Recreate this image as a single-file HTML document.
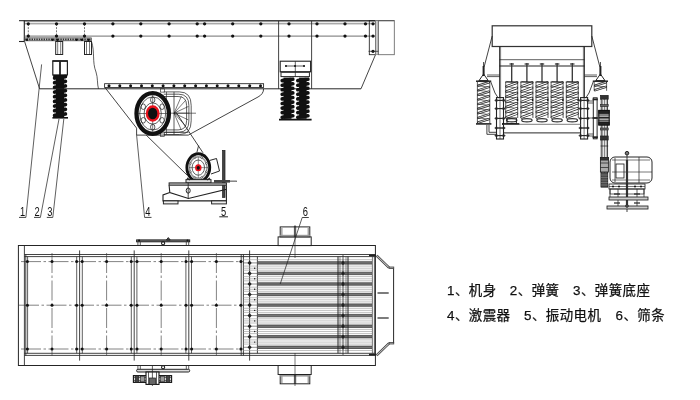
<!DOCTYPE html>
<html><head><meta charset="utf-8"><title>振动给料机结构图</title>
<style>
html,body{margin:0;padding:0;background:#fff;}
svg{display:block;will-change:transform;}
text{font-family:"Liberation Sans","Noto Sans CJK SC",sans-serif;fill:#111;}
.lg{stroke:#111;stroke-width:0.25px;}
</style></head><body>
<svg width="700" height="400" viewBox="0 0 700 400">
<rect width="700" height="400" fill="#fff"/>
<line x1="19.0" y1="20.6" x2="394.3" y2="20.6" stroke="#444" stroke-width="1.1" />
<line x1="24.3" y1="23.8" x2="375.5" y2="23.8" stroke="#555" stroke-width="0.73" />
<line x1="23.8" y1="21.7" x2="376.0" y2="21.7" stroke="#555" stroke-width="0.61" />
<line x1="19.0" y1="41.5" x2="24.3" y2="41.5" stroke="#222" stroke-width="1.1" />
<line x1="24.3" y1="20.6" x2="24.3" y2="41.5" stroke="#222" stroke-width="1.1" />
<line x1="24.3" y1="36.1" x2="375.5" y2="36.1" stroke="#555" stroke-width="0.85" />
<rect x="24.3" y="37.9" width="67" height="2.9" fill="#ddd" stroke="#333" stroke-width="0.7"/>
<line x1="24.3" y1="39.4" x2="91.3" y2="39.4" stroke="#333" stroke-width="1.6" stroke-dasharray="1.5 0.9"/>
<circle cx="28.3" cy="23.8" r="1.65" fill="#111"/>
<circle cx="28.3" cy="36.1" r="1.65" fill="#111"/>
<line x1="28.3" y1="23.9" x2="28.3" y2="35.9" stroke="#222" stroke-width="0.61" stroke-dasharray="2 1.2"/>
<circle cx="56.5" cy="23.8" r="1.65" fill="#111"/>
<circle cx="56.5" cy="36.1" r="1.65" fill="#111"/>
<line x1="56.5" y1="23.9" x2="56.5" y2="35.9" stroke="#222" stroke-width="0.61" stroke-dasharray="2 1.2"/>
<circle cx="84.5" cy="23.8" r="1.65" fill="#111"/>
<circle cx="84.5" cy="36.1" r="1.65" fill="#111"/>
<line x1="84.5" y1="23.9" x2="84.5" y2="35.9" stroke="#222" stroke-width="0.61" stroke-dasharray="2 1.2"/>
<circle cx="27.0" cy="39.8" r="1.2" fill="#111"/>
<circle cx="52.5" cy="39.8" r="1.2" fill="#111"/>
<circle cx="57.5" cy="39.8" r="1.2" fill="#111"/>
<circle cx="76.5" cy="39.8" r="1.2" fill="#111"/>
<circle cx="82.0" cy="39.8" r="1.2" fill="#111"/>
<circle cx="88.5" cy="39.8" r="1.2" fill="#111"/>
<circle cx="112.9" cy="23.8" r="1.65" fill="#111"/>
<circle cx="112.9" cy="36.1" r="1.65" fill="#111"/>
<circle cx="140.8" cy="23.8" r="1.65" fill="#111"/>
<circle cx="140.8" cy="36.1" r="1.65" fill="#111"/>
<circle cx="169.1" cy="23.8" r="1.65" fill="#111"/>
<circle cx="169.1" cy="36.1" r="1.65" fill="#111"/>
<circle cx="197.2" cy="23.8" r="1.65" fill="#111"/>
<circle cx="197.2" cy="36.1" r="1.65" fill="#111"/>
<circle cx="204.6" cy="23.8" r="1.65" fill="#111"/>
<circle cx="204.6" cy="36.1" r="1.65" fill="#111"/>
<circle cx="232.7" cy="23.8" r="1.65" fill="#111"/>
<circle cx="232.7" cy="36.1" r="1.65" fill="#111"/>
<circle cx="260.8" cy="23.8" r="1.65" fill="#111"/>
<circle cx="260.8" cy="36.1" r="1.65" fill="#111"/>
<circle cx="289.0" cy="23.8" r="1.65" fill="#111"/>
<circle cx="289.0" cy="36.1" r="1.65" fill="#111"/>
<circle cx="317.0" cy="23.8" r="1.65" fill="#111"/>
<circle cx="317.0" cy="36.1" r="1.65" fill="#111"/>
<circle cx="345.0" cy="23.8" r="1.65" fill="#111"/>
<circle cx="345.0" cy="36.1" r="1.65" fill="#111"/>
<circle cx="365.5" cy="23.8" r="1.65" fill="#111"/>
<circle cx="365.5" cy="36.1" r="1.65" fill="#111"/>
<rect x="55.7" y="41.5" width="7.0" height="13.0" fill="none" stroke="#222" stroke-width="0.98" rx="0"/>
<line x1="57.7" y1="41.5" x2="57.7" y2="54.5" stroke="#222" stroke-width="0.61" />
<line x1="60.7" y1="41.5" x2="60.7" y2="54.5" stroke="#222" stroke-width="0.61" />
<rect x="84.5" y="41.5" width="7.0" height="13.0" fill="none" stroke="#222" stroke-width="0.98" rx="0"/>
<line x1="86.5" y1="41.5" x2="86.5" y2="54.5" stroke="#222" stroke-width="0.61" />
<line x1="89.5" y1="41.5" x2="89.5" y2="54.5" stroke="#222" stroke-width="0.61" />
<rect x="52.8" y="61.2" width="14.6" height="13.8" fill="none" stroke="#222" stroke-width="1.2" rx="0"/>
<line x1="52.4" y1="60.9" x2="67.8" y2="60.9" stroke="#222" stroke-width="1.6" />
<line x1="60.0" y1="61.0" x2="60.0" y2="75.0" stroke="#222" stroke-width="1.8" />
<line x1="53.2" y1="76.0" x2="67.0" y2="76.0" stroke="#111" stroke-width="2.4" />
<rect x="55.8" y="75.0" width="8.4" height="42.0" fill="#111"/>
<line x1="54.6" y1="78.0" x2="65.4" y2="76.6" stroke="#111" stroke-width="3.73" stroke-linecap="round"/>
<line x1="54.6" y1="82.7" x2="65.4" y2="81.3" stroke="#111" stroke-width="3.73" stroke-linecap="round"/>
<line x1="54.6" y1="87.4" x2="65.4" y2="86.0" stroke="#111" stroke-width="3.73" stroke-linecap="round"/>
<line x1="54.6" y1="92.0" x2="65.4" y2="90.6" stroke="#111" stroke-width="3.73" stroke-linecap="round"/>
<line x1="54.6" y1="96.7" x2="65.4" y2="95.3" stroke="#111" stroke-width="3.73" stroke-linecap="round"/>
<line x1="54.6" y1="101.4" x2="65.4" y2="100.0" stroke="#111" stroke-width="3.73" stroke-linecap="round"/>
<line x1="54.6" y1="106.0" x2="65.4" y2="104.6" stroke="#111" stroke-width="3.73" stroke-linecap="round"/>
<line x1="54.6" y1="110.7" x2="65.4" y2="109.3" stroke="#111" stroke-width="3.73" stroke-linecap="round"/>
<line x1="54.6" y1="115.4" x2="65.4" y2="114.0" stroke="#111" stroke-width="3.73" stroke-linecap="round"/>
<line x1="52.4" y1="117.8" x2="68.0" y2="117.8" stroke="#111" stroke-width="1.6" />
<line x1="39.6" y1="88.8" x2="361.0" y2="88.8" stroke="#222" stroke-width="0.98" />
<line x1="24.6" y1="41.5" x2="39.6" y2="88.8" stroke="#222" stroke-width="0.85" />
<path d="M91.5 41.5 C95 52 92 62 96 72 C98 78 97 84 98.5 88.8" fill="none" stroke="#222" stroke-width="0.73" />
<line x1="278.6" y1="21.0" x2="278.6" y2="88.8" stroke="#222" stroke-width="0.85" />
<line x1="311.6" y1="21.0" x2="311.6" y2="88.8" stroke="#222" stroke-width="0.85" />
<line x1="361.0" y1="88.8" x2="375.5" y2="54.7" stroke="#222" stroke-width="0.85" />
<rect x="369.3" y="20.6" width="6.2" height="34.1" fill="none" stroke="#222" stroke-width="0.85" rx="0"/>
<rect x="375.5" y="20.6" width="2.8" height="34.1" fill="#ccc" stroke="#777" stroke-width="0.61" rx="0"/>
<rect x="378.3" y="20.6" width="16.0" height="34.1" fill="none" stroke="#666" stroke-width="0.85" rx="0"/>
<circle cx="373.0" cy="23.8" r="1.6" fill="#111"/>
<circle cx="373.0" cy="36.1" r="1.6" fill="#111"/>
<circle cx="373.0" cy="51.3" r="1.6" fill="#111"/>
<line x1="368.5" y1="51.3" x2="378.3" y2="51.3" stroke="#222" stroke-width="0.73" />
<rect x="280.2" y="61.2" width="30.4" height="10.6" fill="none" stroke="#222" stroke-width="1.1" rx="0"/>
<rect x="281.0" y="71.8" width="28.4" height="4.8" fill="none" stroke="#222" stroke-width="0.98" rx="0"/>
<line x1="281.0" y1="72.2" x2="309.4" y2="72.2" stroke="#444" stroke-width="1.4" />
<line x1="295.3" y1="61.2" x2="295.3" y2="76.6" stroke="#222" stroke-width="0.73" />
<line x1="285.0" y1="66.0" x2="305.0" y2="66.0" stroke="#222" stroke-width="0.73" />
<circle cx="286.0" cy="66.0" r="1" fill="#111"/>
<circle cx="295.0" cy="66.0" r="1" fill="#111"/>
<circle cx="304.0" cy="66.0" r="1" fill="#111"/>
<rect x="283.5" y="77.6" width="8.0" height="41.2" fill="#111"/>
<line x1="282.2" y1="80.6" x2="292.8" y2="79.2" stroke="#111" stroke-width="3.66" stroke-linecap="round"/>
<line x1="282.2" y1="85.2" x2="292.8" y2="83.8" stroke="#111" stroke-width="3.66" stroke-linecap="round"/>
<line x1="282.2" y1="89.7" x2="292.8" y2="88.3" stroke="#111" stroke-width="3.66" stroke-linecap="round"/>
<line x1="282.2" y1="94.3" x2="292.8" y2="92.9" stroke="#111" stroke-width="3.66" stroke-linecap="round"/>
<line x1="282.2" y1="98.9" x2="292.8" y2="97.5" stroke="#111" stroke-width="3.66" stroke-linecap="round"/>
<line x1="282.2" y1="103.5" x2="292.8" y2="102.1" stroke="#111" stroke-width="3.66" stroke-linecap="round"/>
<line x1="282.2" y1="108.1" x2="292.8" y2="106.7" stroke="#111" stroke-width="3.66" stroke-linecap="round"/>
<line x1="282.2" y1="112.6" x2="292.8" y2="111.2" stroke="#111" stroke-width="3.66" stroke-linecap="round"/>
<line x1="282.2" y1="117.2" x2="292.8" y2="115.8" stroke="#111" stroke-width="3.66" stroke-linecap="round"/>
<rect x="299.1" y="77.6" width="7.5" height="41.2" fill="#111"/>
<line x1="297.8" y1="80.6" x2="307.9" y2="79.2" stroke="#111" stroke-width="3.66" stroke-linecap="round"/>
<line x1="297.8" y1="85.2" x2="307.9" y2="83.8" stroke="#111" stroke-width="3.66" stroke-linecap="round"/>
<line x1="297.8" y1="89.7" x2="307.9" y2="88.3" stroke="#111" stroke-width="3.66" stroke-linecap="round"/>
<line x1="297.8" y1="94.3" x2="307.9" y2="92.9" stroke="#111" stroke-width="3.66" stroke-linecap="round"/>
<line x1="297.8" y1="98.9" x2="307.9" y2="97.5" stroke="#111" stroke-width="3.66" stroke-linecap="round"/>
<line x1="297.8" y1="103.5" x2="307.9" y2="102.1" stroke="#111" stroke-width="3.66" stroke-linecap="round"/>
<line x1="297.8" y1="108.1" x2="307.9" y2="106.7" stroke="#111" stroke-width="3.66" stroke-linecap="round"/>
<line x1="297.8" y1="112.6" x2="307.9" y2="111.2" stroke="#111" stroke-width="3.66" stroke-linecap="round"/>
<line x1="297.8" y1="117.2" x2="307.9" y2="115.8" stroke="#111" stroke-width="3.66" stroke-linecap="round"/>
<line x1="279.0" y1="119.7" x2="311.6" y2="119.7" stroke="#111" stroke-width="1.7" />
<rect x="104.6" y="83.7" width="159.0" height="3.8" fill="none" stroke="#222" stroke-width="0.85" rx="0"/>
<circle cx="109.0" cy="85.7" r="1.5" fill="#111"/>
<circle cx="119.8" cy="85.7" r="1.5" fill="#111"/>
<circle cx="130.6" cy="85.7" r="1.5" fill="#111"/>
<circle cx="141.5" cy="85.7" r="1.5" fill="#111"/>
<circle cx="152.3" cy="85.7" r="1.5" fill="#111"/>
<circle cx="163.1" cy="85.7" r="1.5" fill="#111"/>
<circle cx="173.9" cy="85.7" r="1.5" fill="#111"/>
<circle cx="184.7" cy="85.7" r="1.5" fill="#111"/>
<circle cx="195.6" cy="85.7" r="1.5" fill="#111"/>
<circle cx="206.4" cy="85.7" r="1.5" fill="#111"/>
<circle cx="217.2" cy="85.7" r="1.5" fill="#111"/>
<circle cx="228.0" cy="85.7" r="1.5" fill="#111"/>
<circle cx="238.8" cy="85.7" r="1.5" fill="#111"/>
<circle cx="249.7" cy="85.7" r="1.5" fill="#111"/>
<circle cx="260.5" cy="85.7" r="1.5" fill="#111"/>
<path d="M105.2 87.8 L136.6 128.1 L136.6 135.1 L188.3 135.1 L258 97 Q263.6 94 263.6 88.8" fill="none" stroke="#222" stroke-width="0.85" />
<path d="M163.7 91.9 L179.5 91.9 Q191.2 91.9 191.2 105.6 L191.2 120.7 Q191.2 134.5 179.5 134.5 L163.7 134.5" fill="none" stroke="#222" stroke-width="0.73" />
<path d="M163.7 94.2 L178.8 94.2 Q188.9 94.2 188.9 105.6 L188.9 120.7 Q188.9 132.2 178.8 132.2 L163.7 132.2" fill="none" stroke="#222" stroke-width="0.73" />
<path d="M163.7 96.5 L178.1 96.5 Q186.6 96.5 186.6 105.6 L186.6 120.7 Q186.6 129.9 178.1 129.9 L163.7 129.9" fill="none" stroke="#222" stroke-width="0.73" />
<line x1="174.0" y1="91.9" x2="174.0" y2="134.5" stroke="#222" stroke-width="0.73" />
<line x1="166.5" y1="91.9" x2="166.5" y2="134.5" stroke="#222" stroke-width="0.61" />
<line x1="174.0" y1="113.2" x2="181.3" y2="96.4" stroke="#222" stroke-width="0.61" />
<line x1="174.0" y1="113.2" x2="185.5" y2="100.5" stroke="#222" stroke-width="0.61" />
<line x1="174.0" y1="113.2" x2="188.5" y2="106.4" stroke="#222" stroke-width="0.61" />
<line x1="174.0" y1="113.2" x2="189.5" y2="113.2" stroke="#222" stroke-width="0.61" />
<line x1="174.0" y1="113.2" x2="188.5" y2="120.0" stroke="#222" stroke-width="0.61" />
<line x1="174.0" y1="113.2" x2="185.5" y2="125.9" stroke="#222" stroke-width="0.61" />
<line x1="174.0" y1="113.2" x2="181.3" y2="130.0" stroke="#222" stroke-width="0.61" />
<line x1="140.0" y1="113.2" x2="196.0" y2="113.2" stroke="#222" stroke-width="0.61" />
<rect x="160.5" y="88.8" width="4.0" height="3.3" fill="none" stroke="#222" stroke-width="0.61" rx="0"/>
<rect x="160.5" y="133.0" width="4.0" height="3.3" fill="none" stroke="#222" stroke-width="0.61" rx="0"/>
<line x1="163.7" y1="132.4" x2="188.5" y2="132.4" stroke="#222" stroke-width="0.73" />
<ellipse cx="152.7" cy="113.5" rx="16.2" ry="20.3" fill="#fff" stroke="#111" stroke-width="4.3"/>
<ellipse cx="152.7" cy="113.5" rx="13.0" ry="16.6" fill="none" stroke="#222" stroke-width="0.73"/>
<ellipse cx="152.7" cy="113.5" rx="8.6" ry="10.6" fill="none" stroke="#222" stroke-width="0.73"/>
<ellipse cx="152.7" cy="127.1" rx="2.2" ry="2.8" fill="none" stroke="#222" stroke-width="0.73"/>
<ellipse cx="143.3" cy="120.3" rx="2.2" ry="2.8" fill="none" stroke="#222" stroke-width="0.73"/>
<ellipse cx="143.3" cy="106.7" rx="2.2" ry="2.8" fill="none" stroke="#222" stroke-width="0.73"/>
<ellipse cx="152.7" cy="99.9" rx="2.2" ry="2.8" fill="none" stroke="#222" stroke-width="0.73"/>
<ellipse cx="162.1" cy="106.7" rx="2.2" ry="2.8" fill="none" stroke="#222" stroke-width="0.73"/>
<ellipse cx="162.1" cy="120.3" rx="2.2" ry="2.8" fill="none" stroke="#222" stroke-width="0.73"/>
<line x1="138.0" y1="113.5" x2="167.0" y2="113.5" stroke="#222" stroke-width="0.61" />
<line x1="152.7" y1="94.0" x2="152.7" y2="133.0" stroke="#222" stroke-width="0.61" />
<ellipse cx="152.7" cy="113.5" rx="5.8" ry="7.0" fill="#111" stroke="#e8121c" stroke-width="2.3"/>
<line x1="146.2" y1="135.1" x2="187.4" y2="175.4" stroke="#222" stroke-width="0.85" />
<line x1="176.0" y1="112.3" x2="203.0" y2="152.8" stroke="#222" stroke-width="0.85" />
<ellipse cx="198.3" cy="167.6" rx="11.4" ry="13.8" fill="#fff" stroke="#111" stroke-width="2.9"/>
<ellipse cx="198.3" cy="167.6" rx="8.8" ry="10.8" fill="none" stroke="#999" stroke-width="1.6"/>
<ellipse cx="198.3" cy="167.6" rx="6.2" ry="7.6" fill="none" stroke="#222" stroke-width="0.73"/>
<ellipse cx="206.4" cy="171.7" rx="0.9" ry="0.9" fill="#fff" stroke="#222" stroke-width="0.61"/>
<ellipse cx="201.7" cy="177.6" rx="0.9" ry="0.9" fill="#fff" stroke="#222" stroke-width="0.61"/>
<ellipse cx="194.9" cy="177.6" rx="0.9" ry="0.9" fill="#fff" stroke="#222" stroke-width="0.61"/>
<ellipse cx="190.2" cy="171.7" rx="0.9" ry="0.9" fill="#fff" stroke="#222" stroke-width="0.61"/>
<ellipse cx="190.2" cy="163.5" rx="0.9" ry="0.9" fill="#fff" stroke="#222" stroke-width="0.61"/>
<ellipse cx="194.9" cy="157.6" rx="0.9" ry="0.9" fill="#fff" stroke="#222" stroke-width="0.61"/>
<ellipse cx="201.7" cy="157.6" rx="0.9" ry="0.9" fill="#fff" stroke="#222" stroke-width="0.61"/>
<ellipse cx="206.4" cy="163.5" rx="0.9" ry="0.9" fill="#fff" stroke="#222" stroke-width="0.61"/>
<line x1="189.0" y1="167.6" x2="208.0" y2="167.6" stroke="#222" stroke-width="0.49" />
<line x1="198.3" y1="157.0" x2="198.3" y2="178.0" stroke="#222" stroke-width="0.49" />
<ellipse cx="198.3" cy="167.8" rx="2.4" ry="2.7" fill="#111" stroke="#e8121c" stroke-width="1.7"/>
<line x1="198.6" y1="145.6" x2="196.9" y2="152.4" stroke="#222" stroke-width="0.85" />
<path d="M209.5 160.5 L216.5 158.5 L219.5 171 L211 174" fill="none" stroke="#222" stroke-width="0.98" />
<rect x="222.6" y="150.4" width="2.4" height="47.0" fill="#444" stroke="#222" stroke-width="0.73" rx="0"/>
<line x1="216.0" y1="181.3" x2="237.0" y2="181.3" stroke="#222" stroke-width="0.85" />
<line x1="214.0" y1="181.3" x2="230.0" y2="181.3" stroke="#444" stroke-width="2.6" />
<line x1="230.0" y1="181.3" x2="236.6" y2="181.3" stroke="#888" stroke-width="1.4" />
<rect x="186.0" y="179.6" width="25.0" height="3.3" fill="#ddd" stroke="#222" stroke-width="0.98" rx="0"/>
<line x1="187.0" y1="178.0" x2="190.0" y2="180.0" stroke="#222" stroke-width="1.2" />
<line x1="210.0" y1="178.0" x2="207.0" y2="180.0" stroke="#222" stroke-width="1.2" />
<rect x="169.1" y="182.9" width="57.3" height="2.3" fill="#bbb" stroke="#222" stroke-width="0.98" rx="0"/>
<path d="M169.1 185.2 L169.8 192.5 L188.4 198.5 L226.4 189.3 L226.4 185.2" fill="none" stroke="#222" stroke-width="1.1" />
<path d="M169.8 192.5 L163 195 L163 200.9 L226.4 200.9 L226.4 189.3" fill="none" stroke="#222" stroke-width="1.1" />
<rect x="163.4" y="200.9" width="14.6" height="3.0" fill="#eee" stroke="#222" stroke-width="0.98" rx="0"/>
<rect x="211.6" y="200.9" width="14.8" height="3.0" fill="#eee" stroke="#222" stroke-width="0.98" rx="0"/>
<ellipse cx="188.2" cy="190.6" rx="2.0" ry="2.6" fill="none" stroke="#222" stroke-width="0.98"/>
<line x1="188.2" y1="182.9" x2="188.2" y2="198.5" stroke="#222" stroke-width="0.85" />
<line x1="41.6" y1="64.4" x2="25.9" y2="217.4" stroke="#222" stroke-width="0.73" />
<line x1="59.0" y1="119.0" x2="40.4" y2="217.4" stroke="#222" stroke-width="0.73" />
<line x1="63.8" y1="119.0" x2="52.8" y2="217.4" stroke="#222" stroke-width="0.73" />
<line x1="136.6" y1="135.1" x2="144.6" y2="217.4" stroke="#222" stroke-width="0.73" />
<text transform="translate(22.7,215.7) scale(0.78,1)" font-size="12" text-anchor="middle">1</text>
<text transform="translate(37.2,215.7) scale(0.78,1)" font-size="12" text-anchor="middle">2</text>
<text transform="translate(49.8,215.7) scale(0.78,1)" font-size="12" text-anchor="middle">3</text>
<text transform="translate(147.8,215.7) scale(0.78,1)" font-size="12" text-anchor="middle">4</text>
<text transform="translate(223.6,215.7) scale(0.78,1)" font-size="12" text-anchor="middle">5</text>
<line x1="19.0" y1="217.4" x2="25.9" y2="217.4" stroke="#222" stroke-width="0.85" />
<line x1="34.0" y1="217.4" x2="40.4" y2="217.4" stroke="#222" stroke-width="0.85" />
<line x1="46.8" y1="217.4" x2="52.8" y2="217.4" stroke="#222" stroke-width="0.85" />
<line x1="144.6" y1="217.4" x2="151.5" y2="217.4" stroke="#222" stroke-width="0.85" />
<line x1="219.3" y1="216.8" x2="228.0" y2="216.8" stroke="#222" stroke-width="0.98" />
<rect x="492.2" y="25.8" width="99.6" height="20.7" fill="none" stroke="#333" stroke-width="1.22" rx="0"/>
<line x1="492.2" y1="36.0" x2="484.2" y2="66.7" stroke="#222" stroke-width="0.85" />
<line x1="591.8" y1="36.0" x2="599.8" y2="66.7" stroke="#222" stroke-width="0.85" />
<line x1="499.5" y1="46.5" x2="499.5" y2="98.0" stroke="#222" stroke-width="0.85" />
<line x1="584.5" y1="46.5" x2="584.5" y2="98.0" stroke="#222" stroke-width="0.85" />
<line x1="499.5" y1="59.7" x2="584.5" y2="59.7" stroke="#222" stroke-width="0.73" />
<line x1="499.5" y1="66.0" x2="584.5" y2="66.0" stroke="#222" stroke-width="1.22" />
<line x1="511.7" y1="63.0" x2="511.7" y2="82.0" stroke="#333" stroke-width="1.3" />
<line x1="509.5" y1="64.0" x2="513.9" y2="64.0" stroke="#333" stroke-width="1.22" />
<line x1="505.7" y1="82.0" x2="505.7" y2="118.0" stroke="#222" stroke-width="0.73" />
<line x1="517.7" y1="82.0" x2="517.7" y2="118.0" stroke="#222" stroke-width="0.73" />
<line x1="517.1" y1="82.7" x2="506.3" y2="81.4" stroke="#222" stroke-width="0.61" />
<line x1="506.6" y1="86.4" x2="516.8" y2="82.7" stroke="#222" stroke-width="2.7" stroke-linecap="round"/>
<line x1="506.7" y1="86.4" x2="516.7" y2="82.7" stroke="#fff" stroke-width="1.2" stroke-linecap="round"/>
<line x1="517.1" y1="87.9" x2="506.3" y2="86.5" stroke="#222" stroke-width="0.61" />
<line x1="506.6" y1="91.6" x2="516.8" y2="87.9" stroke="#222" stroke-width="2.7" stroke-linecap="round"/>
<line x1="506.7" y1="91.6" x2="516.7" y2="87.9" stroke="#fff" stroke-width="1.2" stroke-linecap="round"/>
<line x1="517.1" y1="93.0" x2="506.3" y2="91.7" stroke="#222" stroke-width="0.61" />
<line x1="506.6" y1="96.7" x2="516.8" y2="93.0" stroke="#222" stroke-width="2.7" stroke-linecap="round"/>
<line x1="506.7" y1="96.7" x2="516.7" y2="93.0" stroke="#fff" stroke-width="1.2" stroke-linecap="round"/>
<line x1="517.1" y1="98.1" x2="506.3" y2="96.8" stroke="#222" stroke-width="0.61" />
<line x1="506.6" y1="101.9" x2="516.8" y2="98.1" stroke="#222" stroke-width="2.7" stroke-linecap="round"/>
<line x1="506.7" y1="101.9" x2="516.7" y2="98.1" stroke="#fff" stroke-width="1.2" stroke-linecap="round"/>
<line x1="517.1" y1="103.3" x2="506.3" y2="102.0" stroke="#222" stroke-width="0.61" />
<line x1="506.6" y1="107.0" x2="516.8" y2="103.3" stroke="#222" stroke-width="2.7" stroke-linecap="round"/>
<line x1="506.7" y1="107.0" x2="516.7" y2="103.3" stroke="#fff" stroke-width="1.2" stroke-linecap="round"/>
<line x1="517.1" y1="108.4" x2="506.3" y2="107.1" stroke="#222" stroke-width="0.61" />
<line x1="506.6" y1="112.1" x2="516.8" y2="108.4" stroke="#222" stroke-width="2.7" stroke-linecap="round"/>
<line x1="506.7" y1="112.1" x2="516.7" y2="108.4" stroke="#fff" stroke-width="1.2" stroke-linecap="round"/>
<line x1="517.1" y1="113.6" x2="506.3" y2="112.2" stroke="#222" stroke-width="0.61" />
<line x1="506.6" y1="117.3" x2="516.8" y2="113.6" stroke="#222" stroke-width="2.7" stroke-linecap="round"/>
<line x1="506.7" y1="117.3" x2="516.7" y2="113.6" stroke="#fff" stroke-width="1.2" stroke-linecap="round"/>
<line x1="505.2" y1="82.0" x2="518.2" y2="82.0" stroke="#222" stroke-width="1.1" />
<ellipse cx="511.7" cy="120.2" rx="5.2" ry="1.6" fill="none" stroke="#333" stroke-width="1.22"/>
<rect x="507.0" y="118.0" width="9.4" height="5.6" fill="none" stroke="#222" stroke-width="0.98" rx="0"/>
<circle cx="517.5" cy="100.0" r="0.9" fill="#111"/>
<line x1="526.9" y1="63.0" x2="526.9" y2="82.0" stroke="#333" stroke-width="1.3" />
<line x1="524.6" y1="64.0" x2="529.1" y2="64.0" stroke="#333" stroke-width="1.22" />
<line x1="520.9" y1="82.0" x2="520.9" y2="118.0" stroke="#222" stroke-width="0.73" />
<line x1="532.9" y1="82.0" x2="532.9" y2="118.0" stroke="#222" stroke-width="0.73" />
<line x1="532.2" y1="82.7" x2="521.5" y2="81.4" stroke="#222" stroke-width="0.61" />
<line x1="521.8" y1="86.4" x2="532.0" y2="82.7" stroke="#222" stroke-width="2.7" stroke-linecap="round"/>
<line x1="521.9" y1="86.4" x2="531.9" y2="82.7" stroke="#fff" stroke-width="1.2" stroke-linecap="round"/>
<line x1="532.2" y1="87.9" x2="521.5" y2="86.5" stroke="#222" stroke-width="0.61" />
<line x1="521.8" y1="91.6" x2="532.0" y2="87.9" stroke="#222" stroke-width="2.7" stroke-linecap="round"/>
<line x1="521.9" y1="91.6" x2="531.9" y2="87.9" stroke="#fff" stroke-width="1.2" stroke-linecap="round"/>
<line x1="532.2" y1="93.0" x2="521.5" y2="91.7" stroke="#222" stroke-width="0.61" />
<line x1="521.8" y1="96.7" x2="532.0" y2="93.0" stroke="#222" stroke-width="2.7" stroke-linecap="round"/>
<line x1="521.9" y1="96.7" x2="531.9" y2="93.0" stroke="#fff" stroke-width="1.2" stroke-linecap="round"/>
<line x1="532.2" y1="98.1" x2="521.5" y2="96.8" stroke="#222" stroke-width="0.61" />
<line x1="521.8" y1="101.9" x2="532.0" y2="98.1" stroke="#222" stroke-width="2.7" stroke-linecap="round"/>
<line x1="521.9" y1="101.9" x2="531.9" y2="98.1" stroke="#fff" stroke-width="1.2" stroke-linecap="round"/>
<line x1="532.2" y1="103.3" x2="521.5" y2="102.0" stroke="#222" stroke-width="0.61" />
<line x1="521.8" y1="107.0" x2="532.0" y2="103.3" stroke="#222" stroke-width="2.7" stroke-linecap="round"/>
<line x1="521.9" y1="107.0" x2="531.9" y2="103.3" stroke="#fff" stroke-width="1.2" stroke-linecap="round"/>
<line x1="532.2" y1="108.4" x2="521.5" y2="107.1" stroke="#222" stroke-width="0.61" />
<line x1="521.8" y1="112.1" x2="532.0" y2="108.4" stroke="#222" stroke-width="2.7" stroke-linecap="round"/>
<line x1="521.9" y1="112.1" x2="531.9" y2="108.4" stroke="#fff" stroke-width="1.2" stroke-linecap="round"/>
<line x1="532.2" y1="113.6" x2="521.5" y2="112.2" stroke="#222" stroke-width="0.61" />
<line x1="521.8" y1="117.3" x2="532.0" y2="113.6" stroke="#222" stroke-width="2.7" stroke-linecap="round"/>
<line x1="521.9" y1="117.3" x2="531.9" y2="113.6" stroke="#fff" stroke-width="1.2" stroke-linecap="round"/>
<line x1="520.4" y1="82.0" x2="533.4" y2="82.0" stroke="#222" stroke-width="1.1" />
<ellipse cx="526.9" cy="120.2" rx="5.2" ry="1.6" fill="none" stroke="#333" stroke-width="1.22"/>
<circle cx="532.6" cy="100.0" r="0.9" fill="#111"/>
<line x1="542.0" y1="63.0" x2="542.0" y2="82.0" stroke="#333" stroke-width="1.3" />
<line x1="539.8" y1="64.0" x2="544.2" y2="64.0" stroke="#333" stroke-width="1.22" />
<line x1="536.0" y1="82.0" x2="536.0" y2="118.0" stroke="#222" stroke-width="0.73" />
<line x1="548.0" y1="82.0" x2="548.0" y2="118.0" stroke="#222" stroke-width="0.73" />
<line x1="547.4" y1="82.7" x2="536.6" y2="81.4" stroke="#222" stroke-width="0.61" />
<line x1="536.9" y1="86.4" x2="547.1" y2="82.7" stroke="#222" stroke-width="2.7" stroke-linecap="round"/>
<line x1="537.0" y1="86.4" x2="547.0" y2="82.7" stroke="#fff" stroke-width="1.2" stroke-linecap="round"/>
<line x1="547.4" y1="87.9" x2="536.6" y2="86.5" stroke="#222" stroke-width="0.61" />
<line x1="536.9" y1="91.6" x2="547.1" y2="87.9" stroke="#222" stroke-width="2.7" stroke-linecap="round"/>
<line x1="537.0" y1="91.6" x2="547.0" y2="87.9" stroke="#fff" stroke-width="1.2" stroke-linecap="round"/>
<line x1="547.4" y1="93.0" x2="536.6" y2="91.7" stroke="#222" stroke-width="0.61" />
<line x1="536.9" y1="96.7" x2="547.1" y2="93.0" stroke="#222" stroke-width="2.7" stroke-linecap="round"/>
<line x1="537.0" y1="96.7" x2="547.0" y2="93.0" stroke="#fff" stroke-width="1.2" stroke-linecap="round"/>
<line x1="547.4" y1="98.1" x2="536.6" y2="96.8" stroke="#222" stroke-width="0.61" />
<line x1="536.9" y1="101.9" x2="547.1" y2="98.1" stroke="#222" stroke-width="2.7" stroke-linecap="round"/>
<line x1="537.0" y1="101.9" x2="547.0" y2="98.1" stroke="#fff" stroke-width="1.2" stroke-linecap="round"/>
<line x1="547.4" y1="103.3" x2="536.6" y2="102.0" stroke="#222" stroke-width="0.61" />
<line x1="536.9" y1="107.0" x2="547.1" y2="103.3" stroke="#222" stroke-width="2.7" stroke-linecap="round"/>
<line x1="537.0" y1="107.0" x2="547.0" y2="103.3" stroke="#fff" stroke-width="1.2" stroke-linecap="round"/>
<line x1="547.4" y1="108.4" x2="536.6" y2="107.1" stroke="#222" stroke-width="0.61" />
<line x1="536.9" y1="112.1" x2="547.1" y2="108.4" stroke="#222" stroke-width="2.7" stroke-linecap="round"/>
<line x1="537.0" y1="112.1" x2="547.0" y2="108.4" stroke="#fff" stroke-width="1.2" stroke-linecap="round"/>
<line x1="547.4" y1="113.6" x2="536.6" y2="112.2" stroke="#222" stroke-width="0.61" />
<line x1="536.9" y1="117.3" x2="547.1" y2="113.6" stroke="#222" stroke-width="2.7" stroke-linecap="round"/>
<line x1="537.0" y1="117.3" x2="547.0" y2="113.6" stroke="#fff" stroke-width="1.2" stroke-linecap="round"/>
<line x1="535.5" y1="82.0" x2="548.5" y2="82.0" stroke="#222" stroke-width="1.1" />
<ellipse cx="542.0" cy="120.2" rx="5.2" ry="1.6" fill="none" stroke="#333" stroke-width="1.22"/>
<circle cx="547.8" cy="100.0" r="0.9" fill="#111"/>
<line x1="557.1" y1="63.0" x2="557.1" y2="82.0" stroke="#333" stroke-width="1.3" />
<line x1="554.9" y1="64.0" x2="559.4" y2="64.0" stroke="#333" stroke-width="1.22" />
<line x1="551.1" y1="82.0" x2="551.1" y2="118.0" stroke="#222" stroke-width="0.73" />
<line x1="563.1" y1="82.0" x2="563.1" y2="118.0" stroke="#222" stroke-width="0.73" />
<line x1="562.5" y1="82.7" x2="551.8" y2="81.4" stroke="#222" stroke-width="0.61" />
<line x1="552.0" y1="86.4" x2="562.2" y2="82.7" stroke="#222" stroke-width="2.7" stroke-linecap="round"/>
<line x1="552.1" y1="86.4" x2="562.1" y2="82.7" stroke="#fff" stroke-width="1.2" stroke-linecap="round"/>
<line x1="562.5" y1="87.9" x2="551.8" y2="86.5" stroke="#222" stroke-width="0.61" />
<line x1="552.0" y1="91.6" x2="562.2" y2="87.9" stroke="#222" stroke-width="2.7" stroke-linecap="round"/>
<line x1="552.1" y1="91.6" x2="562.1" y2="87.9" stroke="#fff" stroke-width="1.2" stroke-linecap="round"/>
<line x1="562.5" y1="93.0" x2="551.8" y2="91.7" stroke="#222" stroke-width="0.61" />
<line x1="552.0" y1="96.7" x2="562.2" y2="93.0" stroke="#222" stroke-width="2.7" stroke-linecap="round"/>
<line x1="552.1" y1="96.7" x2="562.1" y2="93.0" stroke="#fff" stroke-width="1.2" stroke-linecap="round"/>
<line x1="562.5" y1="98.1" x2="551.8" y2="96.8" stroke="#222" stroke-width="0.61" />
<line x1="552.0" y1="101.9" x2="562.2" y2="98.1" stroke="#222" stroke-width="2.7" stroke-linecap="round"/>
<line x1="552.1" y1="101.9" x2="562.1" y2="98.1" stroke="#fff" stroke-width="1.2" stroke-linecap="round"/>
<line x1="562.5" y1="103.3" x2="551.8" y2="102.0" stroke="#222" stroke-width="0.61" />
<line x1="552.0" y1="107.0" x2="562.2" y2="103.3" stroke="#222" stroke-width="2.7" stroke-linecap="round"/>
<line x1="552.1" y1="107.0" x2="562.1" y2="103.3" stroke="#fff" stroke-width="1.2" stroke-linecap="round"/>
<line x1="562.5" y1="108.4" x2="551.8" y2="107.1" stroke="#222" stroke-width="0.61" />
<line x1="552.0" y1="112.1" x2="562.2" y2="108.4" stroke="#222" stroke-width="2.7" stroke-linecap="round"/>
<line x1="552.1" y1="112.1" x2="562.1" y2="108.4" stroke="#fff" stroke-width="1.2" stroke-linecap="round"/>
<line x1="562.5" y1="113.6" x2="551.8" y2="112.2" stroke="#222" stroke-width="0.61" />
<line x1="552.0" y1="117.3" x2="562.2" y2="113.6" stroke="#222" stroke-width="2.7" stroke-linecap="round"/>
<line x1="552.1" y1="117.3" x2="562.1" y2="113.6" stroke="#fff" stroke-width="1.2" stroke-linecap="round"/>
<line x1="550.6" y1="82.0" x2="563.6" y2="82.0" stroke="#222" stroke-width="1.1" />
<ellipse cx="557.1" cy="120.2" rx="5.2" ry="1.6" fill="none" stroke="#333" stroke-width="1.22"/>
<circle cx="562.9" cy="100.0" r="0.9" fill="#111"/>
<line x1="572.3" y1="63.0" x2="572.3" y2="82.0" stroke="#333" stroke-width="1.3" />
<line x1="570.1" y1="64.0" x2="574.5" y2="64.0" stroke="#333" stroke-width="1.22" />
<line x1="566.3" y1="82.0" x2="566.3" y2="118.0" stroke="#222" stroke-width="0.73" />
<line x1="578.3" y1="82.0" x2="578.3" y2="118.0" stroke="#222" stroke-width="0.73" />
<line x1="577.7" y1="82.7" x2="566.9" y2="81.4" stroke="#222" stroke-width="0.61" />
<line x1="567.2" y1="86.4" x2="577.4" y2="82.7" stroke="#222" stroke-width="2.7" stroke-linecap="round"/>
<line x1="567.3" y1="86.4" x2="577.3" y2="82.7" stroke="#fff" stroke-width="1.2" stroke-linecap="round"/>
<line x1="577.7" y1="87.9" x2="566.9" y2="86.5" stroke="#222" stroke-width="0.61" />
<line x1="567.2" y1="91.6" x2="577.4" y2="87.9" stroke="#222" stroke-width="2.7" stroke-linecap="round"/>
<line x1="567.3" y1="91.6" x2="577.3" y2="87.9" stroke="#fff" stroke-width="1.2" stroke-linecap="round"/>
<line x1="577.7" y1="93.0" x2="566.9" y2="91.7" stroke="#222" stroke-width="0.61" />
<line x1="567.2" y1="96.7" x2="577.4" y2="93.0" stroke="#222" stroke-width="2.7" stroke-linecap="round"/>
<line x1="567.3" y1="96.7" x2="577.3" y2="93.0" stroke="#fff" stroke-width="1.2" stroke-linecap="round"/>
<line x1="577.7" y1="98.1" x2="566.9" y2="96.8" stroke="#222" stroke-width="0.61" />
<line x1="567.2" y1="101.9" x2="577.4" y2="98.1" stroke="#222" stroke-width="2.7" stroke-linecap="round"/>
<line x1="567.3" y1="101.9" x2="577.3" y2="98.1" stroke="#fff" stroke-width="1.2" stroke-linecap="round"/>
<line x1="577.7" y1="103.3" x2="566.9" y2="102.0" stroke="#222" stroke-width="0.61" />
<line x1="567.2" y1="107.0" x2="577.4" y2="103.3" stroke="#222" stroke-width="2.7" stroke-linecap="round"/>
<line x1="567.3" y1="107.0" x2="577.3" y2="103.3" stroke="#fff" stroke-width="1.2" stroke-linecap="round"/>
<line x1="577.7" y1="108.4" x2="566.9" y2="107.1" stroke="#222" stroke-width="0.61" />
<line x1="567.2" y1="112.1" x2="577.4" y2="108.4" stroke="#222" stroke-width="2.7" stroke-linecap="round"/>
<line x1="567.3" y1="112.1" x2="577.3" y2="108.4" stroke="#fff" stroke-width="1.2" stroke-linecap="round"/>
<line x1="577.7" y1="113.6" x2="566.9" y2="112.2" stroke="#222" stroke-width="0.61" />
<line x1="567.2" y1="117.3" x2="577.4" y2="113.6" stroke="#222" stroke-width="2.7" stroke-linecap="round"/>
<line x1="567.3" y1="117.3" x2="577.3" y2="113.6" stroke="#fff" stroke-width="1.2" stroke-linecap="round"/>
<line x1="565.8" y1="82.0" x2="578.8" y2="82.0" stroke="#222" stroke-width="1.1" />
<ellipse cx="572.3" cy="120.2" rx="5.2" ry="1.6" fill="none" stroke="#333" stroke-width="1.22"/>
<circle cx="578.1" cy="100.0" r="0.9" fill="#111"/>
<line x1="483.6" y1="66.0" x2="483.6" y2="76.0" stroke="#222" stroke-width="2.0" />
<line x1="483.6" y1="62.0" x2="483.6" y2="66.0" stroke="#222" stroke-width="0.85" />
<path d="M483.6 74 L479.0 80.6 L488.20000000000005 80.6 Z" fill="none" stroke="#222" stroke-width="0.98" />
<line x1="476.0" y1="81.2" x2="491.2" y2="81.2" stroke="#222" stroke-width="1.5" />
<line x1="600.4" y1="66.0" x2="600.4" y2="76.0" stroke="#222" stroke-width="2.0" />
<line x1="600.4" y1="62.0" x2="600.4" y2="66.0" stroke="#222" stroke-width="0.85" />
<path d="M600.4 74 L595.8 80.6 L605.0 80.6 Z" fill="none" stroke="#222" stroke-width="0.98" />
<line x1="592.8" y1="81.2" x2="608.0" y2="81.2" stroke="#222" stroke-width="1.5" />
<line x1="477.4" y1="81.8" x2="477.4" y2="123.0" stroke="#222" stroke-width="0.73" />
<line x1="489.8" y1="81.8" x2="489.8" y2="123.0" stroke="#222" stroke-width="0.73" />
<line x1="489.2" y1="82.4" x2="478.0" y2="81.3" stroke="#222" stroke-width="0.61" />
<line x1="478.3" y1="85.7" x2="488.9" y2="82.4" stroke="#222" stroke-width="2.3" stroke-linecap="round"/>
<line x1="478.4" y1="85.7" x2="488.8" y2="82.4" stroke="#fff" stroke-width="0.8" stroke-linecap="round"/>
<line x1="489.2" y1="87.0" x2="478.0" y2="85.8" stroke="#222" stroke-width="0.61" />
<line x1="478.3" y1="90.3" x2="488.9" y2="87.0" stroke="#222" stroke-width="2.3" stroke-linecap="round"/>
<line x1="478.4" y1="90.3" x2="488.8" y2="87.0" stroke="#fff" stroke-width="0.8" stroke-linecap="round"/>
<line x1="489.2" y1="91.6" x2="478.0" y2="90.4" stroke="#222" stroke-width="0.61" />
<line x1="478.3" y1="94.9" x2="488.9" y2="91.6" stroke="#222" stroke-width="2.3" stroke-linecap="round"/>
<line x1="478.4" y1="94.9" x2="488.8" y2="91.6" stroke="#fff" stroke-width="0.8" stroke-linecap="round"/>
<line x1="489.2" y1="96.2" x2="478.0" y2="95.0" stroke="#222" stroke-width="0.61" />
<line x1="478.3" y1="99.5" x2="488.9" y2="96.2" stroke="#222" stroke-width="2.3" stroke-linecap="round"/>
<line x1="478.4" y1="99.5" x2="488.8" y2="96.2" stroke="#fff" stroke-width="0.8" stroke-linecap="round"/>
<line x1="489.2" y1="100.8" x2="478.0" y2="99.6" stroke="#222" stroke-width="0.61" />
<line x1="478.3" y1="104.0" x2="488.9" y2="100.8" stroke="#222" stroke-width="2.3" stroke-linecap="round"/>
<line x1="478.4" y1="104.0" x2="488.8" y2="100.8" stroke="#fff" stroke-width="0.8" stroke-linecap="round"/>
<line x1="489.2" y1="105.3" x2="478.0" y2="104.1" stroke="#222" stroke-width="0.61" />
<line x1="478.3" y1="108.6" x2="488.9" y2="105.3" stroke="#222" stroke-width="2.3" stroke-linecap="round"/>
<line x1="478.4" y1="108.6" x2="488.8" y2="105.3" stroke="#fff" stroke-width="0.8" stroke-linecap="round"/>
<line x1="489.2" y1="109.9" x2="478.0" y2="108.7" stroke="#222" stroke-width="0.61" />
<line x1="478.3" y1="113.2" x2="488.9" y2="109.9" stroke="#222" stroke-width="2.3" stroke-linecap="round"/>
<line x1="478.4" y1="113.2" x2="488.8" y2="109.9" stroke="#fff" stroke-width="0.8" stroke-linecap="round"/>
<line x1="489.2" y1="114.5" x2="478.0" y2="113.3" stroke="#222" stroke-width="0.61" />
<line x1="478.3" y1="117.8" x2="488.9" y2="114.5" stroke="#222" stroke-width="2.3" stroke-linecap="round"/>
<line x1="478.4" y1="117.8" x2="488.8" y2="114.5" stroke="#fff" stroke-width="0.8" stroke-linecap="round"/>
<line x1="489.2" y1="119.1" x2="478.0" y2="117.9" stroke="#222" stroke-width="0.61" />
<line x1="478.3" y1="122.4" x2="488.9" y2="119.1" stroke="#222" stroke-width="2.3" stroke-linecap="round"/>
<line x1="478.4" y1="122.4" x2="488.8" y2="119.1" stroke="#fff" stroke-width="0.8" stroke-linecap="round"/>
<line x1="476.0" y1="123.9" x2="491.4" y2="123.9" stroke="#222" stroke-width="1.6" />
<line x1="594.2" y1="81.8" x2="594.2" y2="90.8" stroke="#222" stroke-width="0.73" />
<line x1="606.6" y1="81.8" x2="606.6" y2="90.8" stroke="#222" stroke-width="0.73" />
<line x1="606.0" y1="82.4" x2="594.8" y2="81.3" stroke="#222" stroke-width="0.61" />
<line x1="595.1" y1="85.7" x2="605.7" y2="82.4" stroke="#222" stroke-width="2.3" stroke-linecap="round"/>
<line x1="595.2" y1="85.7" x2="605.6" y2="82.4" stroke="#fff" stroke-width="0.8" stroke-linecap="round"/>
<line x1="606.0" y1="86.9" x2="594.8" y2="85.8" stroke="#222" stroke-width="0.61" />
<line x1="595.1" y1="90.2" x2="605.7" y2="86.9" stroke="#222" stroke-width="2.3" stroke-linecap="round"/>
<line x1="595.2" y1="90.2" x2="605.6" y2="86.9" stroke="#fff" stroke-width="0.8" stroke-linecap="round"/>
<line x1="487.0" y1="75.0" x2="500.0" y2="75.0" stroke="#222" stroke-width="0.73" />
<line x1="487.0" y1="76.6" x2="500.0" y2="76.6" stroke="#222" stroke-width="0.73" />
<line x1="584.5" y1="75.0" x2="597.0" y2="75.0" stroke="#222" stroke-width="0.73" />
<line x1="584.5" y1="76.6" x2="597.0" y2="76.6" stroke="#222" stroke-width="0.73" />
<line x1="490.6" y1="81.4" x2="495.0" y2="93.0" stroke="#222" stroke-width="0.85" />
<line x1="495.0" y1="93.0" x2="498.0" y2="97.6" stroke="#222" stroke-width="0.85" />
<line x1="593.4" y1="81.4" x2="589.0" y2="93.0" stroke="#222" stroke-width="0.85" />
<line x1="589.0" y1="93.0" x2="586.0" y2="97.6" stroke="#222" stroke-width="0.85" />
<line x1="500.6" y1="46.5" x2="500.6" y2="98.0" stroke="#222" stroke-width="0.61" />
<line x1="583.4" y1="46.5" x2="583.4" y2="98.0" stroke="#222" stroke-width="0.61" />
<rect x="496.5" y="97.6" width="7.0" height="41.4" fill="none" stroke="#222" stroke-width="1.1" rx="0"/>
<line x1="500.0" y1="97.6" x2="500.0" y2="139.0" stroke="#222" stroke-width="0.61" />
<line x1="495.3" y1="100.4" x2="497.5" y2="100.4" stroke="#222" stroke-width="2.2" />
<line x1="502.5" y1="100.4" x2="504.7" y2="100.4" stroke="#222" stroke-width="2.2" />
<line x1="497.5" y1="100.4" x2="502.5" y2="100.4" stroke="#222" stroke-width="0.98" />
<line x1="494.5" y1="100.4" x2="505.5" y2="100.4" stroke="#222" stroke-width="0.73" />
<line x1="495.3" y1="108.6" x2="497.5" y2="108.6" stroke="#222" stroke-width="2.2" />
<line x1="502.5" y1="108.6" x2="504.7" y2="108.6" stroke="#222" stroke-width="2.2" />
<line x1="497.5" y1="108.6" x2="502.5" y2="108.6" stroke="#222" stroke-width="0.98" />
<line x1="494.5" y1="108.6" x2="505.5" y2="108.6" stroke="#222" stroke-width="0.73" />
<line x1="495.3" y1="118.4" x2="497.5" y2="118.4" stroke="#222" stroke-width="2.2" />
<line x1="502.5" y1="118.4" x2="504.7" y2="118.4" stroke="#222" stroke-width="2.2" />
<line x1="497.5" y1="118.4" x2="502.5" y2="118.4" stroke="#222" stroke-width="0.98" />
<line x1="494.5" y1="118.4" x2="505.5" y2="118.4" stroke="#222" stroke-width="0.73" />
<line x1="495.3" y1="128.0" x2="497.5" y2="128.0" stroke="#222" stroke-width="2.2" />
<line x1="502.5" y1="128.0" x2="504.7" y2="128.0" stroke="#222" stroke-width="2.2" />
<line x1="497.5" y1="128.0" x2="502.5" y2="128.0" stroke="#222" stroke-width="0.98" />
<line x1="494.5" y1="128.0" x2="505.5" y2="128.0" stroke="#222" stroke-width="0.73" />
<line x1="495.3" y1="135.6" x2="497.5" y2="135.6" stroke="#222" stroke-width="2.2" />
<line x1="502.5" y1="135.6" x2="504.7" y2="135.6" stroke="#222" stroke-width="2.2" />
<line x1="497.5" y1="135.6" x2="502.5" y2="135.6" stroke="#222" stroke-width="0.98" />
<line x1="494.5" y1="135.6" x2="505.5" y2="135.6" stroke="#222" stroke-width="0.73" />
<rect x="580.6" y="97.6" width="7.0" height="41.4" fill="none" stroke="#222" stroke-width="1.1" rx="0"/>
<line x1="584.1" y1="97.6" x2="584.1" y2="139.0" stroke="#222" stroke-width="0.61" />
<line x1="579.4" y1="100.4" x2="581.6" y2="100.4" stroke="#222" stroke-width="2.2" />
<line x1="586.6" y1="100.4" x2="588.8" y2="100.4" stroke="#222" stroke-width="2.2" />
<line x1="581.6" y1="100.4" x2="586.6" y2="100.4" stroke="#222" stroke-width="0.98" />
<line x1="578.6" y1="100.4" x2="589.6" y2="100.4" stroke="#222" stroke-width="0.73" />
<line x1="579.4" y1="108.6" x2="581.6" y2="108.6" stroke="#222" stroke-width="2.2" />
<line x1="586.6" y1="108.6" x2="588.8" y2="108.6" stroke="#222" stroke-width="2.2" />
<line x1="581.6" y1="108.6" x2="586.6" y2="108.6" stroke="#222" stroke-width="0.98" />
<line x1="578.6" y1="108.6" x2="589.6" y2="108.6" stroke="#222" stroke-width="0.73" />
<line x1="579.4" y1="118.4" x2="581.6" y2="118.4" stroke="#222" stroke-width="2.2" />
<line x1="586.6" y1="118.4" x2="588.8" y2="118.4" stroke="#222" stroke-width="2.2" />
<line x1="581.6" y1="118.4" x2="586.6" y2="118.4" stroke="#222" stroke-width="0.98" />
<line x1="578.6" y1="118.4" x2="589.6" y2="118.4" stroke="#222" stroke-width="0.73" />
<line x1="579.4" y1="128.0" x2="581.6" y2="128.0" stroke="#222" stroke-width="2.2" />
<line x1="586.6" y1="128.0" x2="588.8" y2="128.0" stroke="#222" stroke-width="2.2" />
<line x1="581.6" y1="128.0" x2="586.6" y2="128.0" stroke="#222" stroke-width="0.98" />
<line x1="578.6" y1="128.0" x2="589.6" y2="128.0" stroke="#222" stroke-width="0.73" />
<line x1="579.4" y1="135.6" x2="581.6" y2="135.6" stroke="#222" stroke-width="2.2" />
<line x1="586.6" y1="135.6" x2="588.8" y2="135.6" stroke="#222" stroke-width="2.2" />
<line x1="581.6" y1="135.6" x2="586.6" y2="135.6" stroke="#222" stroke-width="0.98" />
<line x1="578.6" y1="135.6" x2="589.6" y2="135.6" stroke="#222" stroke-width="0.73" />
<rect x="593.3" y="97.8" width="3.8" height="41.0" fill="none" stroke="#222" stroke-width="0.98" rx="0"/>
<line x1="587.6" y1="101.0" x2="593.3" y2="101.0" stroke="#222" stroke-width="0.73" />
<line x1="587.6" y1="103.0" x2="593.3" y2="103.0" stroke="#222" stroke-width="0.73" />
<line x1="587.6" y1="118.0" x2="593.3" y2="118.0" stroke="#222" stroke-width="0.73" />
<line x1="587.6" y1="134.0" x2="593.3" y2="134.0" stroke="#222" stroke-width="0.73" />
<line x1="587.6" y1="136.0" x2="593.3" y2="136.0" stroke="#222" stroke-width="0.73" />
<line x1="592.6" y1="99.4" x2="597.8" y2="99.4" stroke="#222" stroke-width="1.8" />
<line x1="592.6" y1="118.0" x2="597.8" y2="118.0" stroke="#222" stroke-width="1.8" />
<line x1="592.6" y1="137.2" x2="597.8" y2="137.2" stroke="#222" stroke-width="1.8" />
<line x1="486.9" y1="125.0" x2="486.9" y2="134.3" stroke="#222" stroke-width="0.85" />
<line x1="489.0" y1="125.0" x2="489.0" y2="132.3" stroke="#222" stroke-width="0.85" />
<line x1="486.9" y1="134.3" x2="496.5" y2="134.3" stroke="#222" stroke-width="0.85" />
<line x1="489.0" y1="132.3" x2="496.5" y2="132.3" stroke="#222" stroke-width="0.85" />
<line x1="502.0" y1="124.0" x2="519.3" y2="124.0" stroke="#111" stroke-width="1.8" />
<line x1="503.5" y1="124.3" x2="580.6" y2="124.3" stroke="#666" stroke-width="0.85" />
<line x1="503.5" y1="132.9" x2="580.6" y2="132.9" stroke="#222" stroke-width="0.98" />
<rect x="601.2" y="96.0" width="6.4" height="91.0" fill="none" stroke="#222" stroke-width="0.85" rx="0"/>
<line x1="604.4" y1="96.0" x2="604.4" y2="173.0" stroke="#222" stroke-width="0.61" />
<line x1="602.6" y1="100.0" x2="602.6" y2="157.0" stroke="#222" stroke-width="0.49" />
<line x1="606.2" y1="100.0" x2="606.2" y2="157.0" stroke="#222" stroke-width="0.49" />
<rect x="600.6" y="95.6" width="7.6" height="3.6" fill="#333" stroke="#222" stroke-width="0.73" rx="0"/>
<rect x="600.6" y="104.6" width="7.6" height="2.0" fill="#666" stroke="#222" stroke-width="0.61" rx="0"/>
<rect x="598.8" y="110.4" width="10.4" height="14.6" fill="#bbb" stroke="#111" stroke-width="1.1" rx="0"/>
<rect x="598.8" y="110.4" width="10.4" height="3.0" fill="#222" stroke="#111" stroke-width="0.73" rx="0"/>
<rect x="598.8" y="122.0" width="10.4" height="3.0" fill="#222" stroke="#111" stroke-width="0.73" rx="0"/>
<line x1="598.8" y1="117.7" x2="609.2" y2="117.7" stroke="#222" stroke-width="1.6" />
<line x1="598.0" y1="115.0" x2="610.0" y2="115.0" stroke="#222" stroke-width="0.73" />
<line x1="598.0" y1="120.4" x2="610.0" y2="120.4" stroke="#222" stroke-width="0.73" />
<rect x="600.6" y="128.0" width="7.6" height="2.0" fill="#666" stroke="#222" stroke-width="0.61" rx="0"/>
<rect x="600.6" y="136.0" width="7.6" height="4.0" fill="#333" stroke="#222" stroke-width="0.73" rx="0"/>
<line x1="600.6" y1="146.0" x2="608.2" y2="146.0" stroke="#222" stroke-width="0.73" />
<rect x="600.4" y="157.5" width="8.0" height="14.5" fill="#aaa" stroke="#222" stroke-width="0.85" rx="0"/>
<rect x="600.4" y="157.5" width="8.0" height="2.6" fill="#333" stroke="#222" stroke-width="0.61" rx="0"/>
<line x1="600.4" y1="163.0" x2="608.4" y2="163.0" stroke="#222" stroke-width="0.73" />
<line x1="600.4" y1="167.5" x2="608.4" y2="167.5" stroke="#222" stroke-width="0.73" />
<rect x="601" y="172.6" width="6.8" height="14.4" fill="#4a4a4a" stroke="#222" stroke-width="0.6"/>
<line x1="601.0" y1="175.0" x2="607.8" y2="175.0" stroke="#999" stroke-width="0.49" />
<line x1="601.0" y1="177.5" x2="607.8" y2="177.5" stroke="#999" stroke-width="0.49" />
<line x1="601.0" y1="180.0" x2="607.8" y2="180.0" stroke="#999" stroke-width="0.49" />
<line x1="601.0" y1="182.5" x2="607.8" y2="182.5" stroke="#999" stroke-width="0.49" />
<line x1="601.0" y1="185.0" x2="607.8" y2="185.0" stroke="#999" stroke-width="0.49" />
<rect x="610.0" y="157.0" width="42.0" height="26.0" fill="none" stroke="#222" stroke-width="0.98" rx="5"/>
<line x1="612.0" y1="160.0" x2="650.0" y2="160.0" stroke="#222" stroke-width="0.61" />
<line x1="612.0" y1="172.0" x2="652.0" y2="172.0" stroke="#222" stroke-width="0.61" />
<line x1="612.0" y1="180.0" x2="650.0" y2="180.0" stroke="#222" stroke-width="0.61" />
<line x1="639.0" y1="157.0" x2="639.0" y2="183.0" stroke="#222" stroke-width="0.73" />
<line x1="615.0" y1="158.0" x2="615.0" y2="182.0" stroke="#222" stroke-width="0.73" />
<rect x="616.0" y="164.0" width="8.0" height="14.0" fill="none" stroke="#222" stroke-width="0.85" rx="0"/>
<circle cx="627.0" cy="153.2" r="1.8" fill="#777" stroke="#222" stroke-width="0.98"/>
<line x1="627.0" y1="155.0" x2="627.0" y2="212.0" stroke="#222" stroke-width="0.85" />
<line x1="627.0" y1="160.0" x2="627.0" y2="205.0" stroke="#333" stroke-width="2.2" />
<rect x="609.0" y="184.0" width="36.0" height="5.0" fill="none" stroke="#222" stroke-width="0.85" rx="0"/>
<line x1="609.0" y1="186.5" x2="645.0" y2="186.5" stroke="#222" stroke-width="0.61" />
<circle cx="613.0" cy="186.5" r="1.0" fill="#111"/>
<circle cx="619.0" cy="186.5" r="1.0" fill="#111"/>
<circle cx="635.0" cy="186.5" r="1.0" fill="#111"/>
<circle cx="641.0" cy="186.5" r="1.0" fill="#111"/>
<rect x="610.0" y="189.0" width="34.0" height="5.0" fill="none" stroke="#222" stroke-width="0.73" rx="0"/>
<line x1="618.0" y1="189.0" x2="618.0" y2="206.0" stroke="#222" stroke-width="0.73" />
<line x1="637.0" y1="189.0" x2="637.0" y2="206.0" stroke="#222" stroke-width="0.73" />
<line x1="610.0" y1="189.0" x2="610.0" y2="200.0" stroke="#222" stroke-width="0.73" />
<line x1="644.0" y1="189.0" x2="644.0" y2="200.0" stroke="#222" stroke-width="0.73" />
<rect x="609.0" y="197.0" width="39.0" height="3.0" fill="#ccc" stroke="#222" stroke-width="0.85" rx="0"/>
<line x1="614.0" y1="194.0" x2="620.0" y2="194.0" stroke="#222" stroke-width="1.2" />
<line x1="634.0" y1="194.0" x2="640.0" y2="194.0" stroke="#222" stroke-width="1.2" />
<line x1="614.0" y1="203.0" x2="620.0" y2="203.0" stroke="#222" stroke-width="1.2" />
<line x1="634.0" y1="203.0" x2="640.0" y2="203.0" stroke="#222" stroke-width="1.2" />
<rect x="607.0" y="206.0" width="41.0" height="3.0" fill="#ccc" stroke="#222" stroke-width="0.85" rx="0"/>
<circle cx="627.0" cy="206.0" r="1.4" fill="#555" stroke="#222" stroke-width="0.73"/>
<rect x="18.4" y="245.5" width="357.0" height="120.0" fill="none" stroke="#222" stroke-width="0.98" rx="0"/>
<line x1="24.4" y1="245.5" x2="24.4" y2="365.5" stroke="#222" stroke-width="0.85" />
<line x1="24.4" y1="254.5" x2="375.4" y2="254.5" stroke="#222" stroke-width="0.85" />
<line x1="24.4" y1="256.6" x2="375.4" y2="256.6" stroke="#222" stroke-width="0.85" />
<line x1="24.4" y1="353.3" x2="375.4" y2="353.3" stroke="#222" stroke-width="0.85" />
<line x1="24.4" y1="355.4" x2="375.4" y2="355.4" stroke="#222" stroke-width="0.85" />
<line x1="25.8" y1="254.5" x2="25.8" y2="355.4" stroke="#222" stroke-width="0.85" />
<line x1="27.6" y1="256.6" x2="27.6" y2="353.3" stroke="#222" stroke-width="0.73" />
<line x1="79.6" y1="250.4" x2="79.6" y2="360.6" stroke="#222" stroke-width="0.85" />
<line x1="76.7" y1="256.6" x2="76.7" y2="353.3" stroke="#222" stroke-width="0.73" />
<line x1="82.3" y1="256.6" x2="82.3" y2="353.3" stroke="#222" stroke-width="0.73" />
<line x1="134.2" y1="250.4" x2="134.2" y2="360.6" stroke="#222" stroke-width="0.85" />
<line x1="131.3" y1="256.6" x2="131.3" y2="353.3" stroke="#222" stroke-width="0.73" />
<line x1="136.9" y1="256.6" x2="136.9" y2="353.3" stroke="#222" stroke-width="0.73" />
<line x1="188.8" y1="250.4" x2="188.8" y2="360.6" stroke="#222" stroke-width="0.85" />
<line x1="185.9" y1="256.6" x2="185.9" y2="353.3" stroke="#222" stroke-width="0.73" />
<line x1="191.5" y1="256.6" x2="191.5" y2="353.3" stroke="#222" stroke-width="0.73" />
<line x1="241.2" y1="254.5" x2="241.2" y2="355.4" stroke="#222" stroke-width="0.85" />
<line x1="243.4" y1="254.5" x2="243.4" y2="355.4" stroke="#222" stroke-width="0.85" />
<line x1="249.6" y1="250.4" x2="249.6" y2="360.6" stroke="#222" stroke-width="0.85" />
<line x1="52.0" y1="253.0" x2="52.0" y2="357.5" stroke="#333" stroke-width="0.61" stroke-dasharray="20 2.5 2.5 2.5"/>
<line x1="106.6" y1="253.0" x2="106.6" y2="357.5" stroke="#333" stroke-width="0.61" stroke-dasharray="20 2.5 2.5 2.5"/>
<line x1="161.2" y1="253.0" x2="161.2" y2="357.5" stroke="#333" stroke-width="0.61" stroke-dasharray="20 2.5 2.5 2.5"/>
<line x1="216.4" y1="253.0" x2="216.4" y2="357.5" stroke="#333" stroke-width="0.61" stroke-dasharray="20 2.5 2.5 2.5"/>
<line x1="19.0" y1="305.2" x2="243.0" y2="305.2" stroke="#333" stroke-width="0.61" stroke-dasharray="20 2.5 2.5 2.5"/>
<line x1="21.0" y1="261.6" x2="243.0" y2="261.6" stroke="#333" stroke-width="0.61" stroke-dasharray="20 2.5 2.5 2.5"/>
<line x1="21.0" y1="349.0" x2="243.0" y2="349.0" stroke="#333" stroke-width="0.61" stroke-dasharray="20 2.5 2.5 2.5"/>
<circle cx="27.4" cy="261.6" r="1.5" fill="#111"/>
<circle cx="52.0" cy="261.6" r="1.5" fill="#111"/>
<circle cx="76.6" cy="261.6" r="1.5" fill="#111"/>
<circle cx="82.2" cy="261.6" r="1.5" fill="#111"/>
<circle cx="106.6" cy="261.6" r="1.5" fill="#111"/>
<circle cx="131.2" cy="261.6" r="1.5" fill="#111"/>
<circle cx="137.0" cy="261.6" r="1.5" fill="#111"/>
<circle cx="161.2" cy="261.6" r="1.5" fill="#111"/>
<circle cx="186.0" cy="261.6" r="1.5" fill="#111"/>
<circle cx="191.6" cy="261.6" r="1.5" fill="#111"/>
<circle cx="216.4" cy="261.6" r="1.5" fill="#111"/>
<circle cx="240.9" cy="261.6" r="1.5" fill="#111"/>
<circle cx="27.4" cy="305.2" r="1.5" fill="#111"/>
<circle cx="52.0" cy="305.2" r="1.5" fill="#111"/>
<circle cx="76.6" cy="305.2" r="1.5" fill="#111"/>
<circle cx="82.2" cy="305.2" r="1.5" fill="#111"/>
<circle cx="106.6" cy="305.2" r="1.5" fill="#111"/>
<circle cx="131.2" cy="305.2" r="1.5" fill="#111"/>
<circle cx="137.0" cy="305.2" r="1.5" fill="#111"/>
<circle cx="161.2" cy="305.2" r="1.5" fill="#111"/>
<circle cx="186.0" cy="305.2" r="1.5" fill="#111"/>
<circle cx="191.6" cy="305.2" r="1.5" fill="#111"/>
<circle cx="216.4" cy="305.2" r="1.5" fill="#111"/>
<circle cx="240.9" cy="305.2" r="1.5" fill="#111"/>
<circle cx="27.4" cy="349.0" r="1.5" fill="#111"/>
<circle cx="52.0" cy="349.0" r="1.5" fill="#111"/>
<circle cx="76.6" cy="349.0" r="1.5" fill="#111"/>
<circle cx="82.2" cy="349.0" r="1.5" fill="#111"/>
<circle cx="106.6" cy="349.0" r="1.5" fill="#111"/>
<circle cx="131.2" cy="349.0" r="1.5" fill="#111"/>
<circle cx="137.0" cy="349.0" r="1.5" fill="#111"/>
<circle cx="161.2" cy="349.0" r="1.5" fill="#111"/>
<circle cx="186.0" cy="349.0" r="1.5" fill="#111"/>
<circle cx="191.6" cy="349.0" r="1.5" fill="#111"/>
<circle cx="216.4" cy="349.0" r="1.5" fill="#111"/>
<circle cx="240.9" cy="349.0" r="1.5" fill="#111"/>
<line x1="257.4" y1="256.6" x2="257.4" y2="353.3" stroke="#222" stroke-width="0.85" />
<line x1="258.0" y1="262.9" x2="372.0" y2="262.9" stroke="#777" stroke-width="2.4" />
<line x1="258.0" y1="261.7" x2="372.0" y2="261.7" stroke="#333" stroke-width="0.73" />
<line x1="258.0" y1="264.1" x2="372.0" y2="264.1" stroke="#333" stroke-width="0.73" />
<line x1="243.4" y1="259.7" x2="372.0" y2="259.7" stroke="#999" stroke-width="0.61" />
<line x1="243.4" y1="266.1" x2="372.0" y2="266.1" stroke="#999" stroke-width="0.61" />
<line x1="243.4" y1="262.9" x2="257.4" y2="262.9" stroke="#444" stroke-width="0.61" />
<path d="M247.5 262.9 L249.6 260.6 L251.7 262.9 L249.6 265.2 Z" fill="#222"/>
<path d="M341.1 262.9 L343 260.5 L344.9 262.9 L343 265.3 Z" fill="#222"/>
<line x1="243.4" y1="268.2" x2="372.0" y2="268.2" stroke="#999" stroke-width="0.61" />
<circle cx="254.7" cy="268.2" r="0.7" fill="#111"/>
<line x1="258.0" y1="273.4" x2="372.0" y2="273.4" stroke="#777" stroke-width="2.4" />
<line x1="258.0" y1="272.2" x2="372.0" y2="272.2" stroke="#333" stroke-width="0.73" />
<line x1="258.0" y1="274.6" x2="372.0" y2="274.6" stroke="#333" stroke-width="0.73" />
<line x1="243.4" y1="270.2" x2="372.0" y2="270.2" stroke="#999" stroke-width="0.61" />
<line x1="243.4" y1="276.6" x2="372.0" y2="276.6" stroke="#999" stroke-width="0.61" />
<line x1="243.4" y1="273.4" x2="257.4" y2="273.4" stroke="#444" stroke-width="0.61" />
<path d="M247.5 273.4 L249.6 271.1 L251.7 273.4 L249.6 275.8 Z" fill="#222"/>
<path d="M341.1 273.4 L343 271.1 L344.9 273.4 L343 275.8 Z" fill="#222"/>
<line x1="243.4" y1="278.8" x2="372.0" y2="278.8" stroke="#999" stroke-width="0.61" />
<circle cx="254.7" cy="278.8" r="0.7" fill="#111"/>
<line x1="258.0" y1="284.0" x2="372.0" y2="284.0" stroke="#777" stroke-width="2.4" />
<line x1="258.0" y1="282.8" x2="372.0" y2="282.8" stroke="#333" stroke-width="0.73" />
<line x1="258.0" y1="285.2" x2="372.0" y2="285.2" stroke="#333" stroke-width="0.73" />
<line x1="243.4" y1="280.8" x2="372.0" y2="280.8" stroke="#999" stroke-width="0.61" />
<line x1="243.4" y1="287.2" x2="372.0" y2="287.2" stroke="#999" stroke-width="0.61" />
<line x1="243.4" y1="284.0" x2="257.4" y2="284.0" stroke="#444" stroke-width="0.61" />
<path d="M247.5 284.0 L249.6 281.7 L251.7 284.0 L249.6 286.3 Z" fill="#222"/>
<path d="M341.1 284.0 L343 281.6 L344.9 284.0 L343 286.4 Z" fill="#222"/>
<line x1="243.4" y1="289.3" x2="372.0" y2="289.3" stroke="#999" stroke-width="0.61" />
<circle cx="254.7" cy="289.3" r="0.7" fill="#111"/>
<line x1="258.0" y1="294.5" x2="372.0" y2="294.5" stroke="#777" stroke-width="2.4" />
<line x1="258.0" y1="293.3" x2="372.0" y2="293.3" stroke="#333" stroke-width="0.73" />
<line x1="258.0" y1="295.7" x2="372.0" y2="295.7" stroke="#333" stroke-width="0.73" />
<line x1="243.4" y1="291.3" x2="372.0" y2="291.3" stroke="#999" stroke-width="0.61" />
<line x1="243.4" y1="297.7" x2="372.0" y2="297.7" stroke="#999" stroke-width="0.61" />
<line x1="243.4" y1="294.5" x2="257.4" y2="294.5" stroke="#444" stroke-width="0.61" />
<path d="M247.5 294.5 L249.6 292.2 L251.7 294.5 L249.6 296.8 Z" fill="#222"/>
<path d="M341.1 294.5 L343 292.1 L344.9 294.5 L343 296.9 Z" fill="#222"/>
<line x1="243.4" y1="299.8" x2="372.0" y2="299.8" stroke="#999" stroke-width="0.61" />
<circle cx="254.7" cy="299.8" r="0.7" fill="#111"/>
<line x1="258.0" y1="305.1" x2="372.0" y2="305.1" stroke="#777" stroke-width="2.4" />
<line x1="258.0" y1="303.9" x2="372.0" y2="303.9" stroke="#333" stroke-width="0.73" />
<line x1="258.0" y1="306.3" x2="372.0" y2="306.3" stroke="#333" stroke-width="0.73" />
<line x1="243.4" y1="301.9" x2="372.0" y2="301.9" stroke="#999" stroke-width="0.61" />
<line x1="243.4" y1="308.3" x2="372.0" y2="308.3" stroke="#999" stroke-width="0.61" />
<line x1="243.4" y1="305.1" x2="257.4" y2="305.1" stroke="#444" stroke-width="0.61" />
<path d="M247.5 305.1 L249.6 302.8 L251.7 305.1 L249.6 307.4 Z" fill="#222"/>
<path d="M341.1 305.1 L343 302.7 L344.9 305.1 L343 307.5 Z" fill="#222"/>
<line x1="243.4" y1="310.4" x2="372.0" y2="310.4" stroke="#999" stroke-width="0.61" />
<circle cx="254.7" cy="310.4" r="0.7" fill="#111"/>
<line x1="258.0" y1="315.6" x2="372.0" y2="315.6" stroke="#777" stroke-width="2.4" />
<line x1="258.0" y1="314.4" x2="372.0" y2="314.4" stroke="#333" stroke-width="0.73" />
<line x1="258.0" y1="316.8" x2="372.0" y2="316.8" stroke="#333" stroke-width="0.73" />
<line x1="243.4" y1="312.4" x2="372.0" y2="312.4" stroke="#999" stroke-width="0.61" />
<line x1="243.4" y1="318.8" x2="372.0" y2="318.8" stroke="#999" stroke-width="0.61" />
<line x1="243.4" y1="315.6" x2="257.4" y2="315.6" stroke="#444" stroke-width="0.61" />
<path d="M247.5 315.6 L249.6 313.3 L251.7 315.6 L249.6 317.9 Z" fill="#222"/>
<path d="M341.1 315.6 L343 313.2 L344.9 315.6 L343 318.0 Z" fill="#222"/>
<line x1="243.4" y1="320.9" x2="372.0" y2="320.9" stroke="#999" stroke-width="0.61" />
<circle cx="254.7" cy="320.9" r="0.7" fill="#111"/>
<line x1="258.0" y1="326.2" x2="372.0" y2="326.2" stroke="#777" stroke-width="2.4" />
<line x1="258.0" y1="325.0" x2="372.0" y2="325.0" stroke="#333" stroke-width="0.73" />
<line x1="258.0" y1="327.4" x2="372.0" y2="327.4" stroke="#333" stroke-width="0.73" />
<line x1="243.4" y1="323.0" x2="372.0" y2="323.0" stroke="#999" stroke-width="0.61" />
<line x1="243.4" y1="329.4" x2="372.0" y2="329.4" stroke="#999" stroke-width="0.61" />
<line x1="243.4" y1="326.2" x2="257.4" y2="326.2" stroke="#444" stroke-width="0.61" />
<path d="M247.5 326.2 L249.6 323.9 L251.7 326.2 L249.6 328.5 Z" fill="#222"/>
<path d="M341.1 326.2 L343 323.8 L344.9 326.2 L343 328.6 Z" fill="#222"/>
<line x1="243.4" y1="331.5" x2="372.0" y2="331.5" stroke="#999" stroke-width="0.61" />
<circle cx="254.7" cy="331.5" r="0.7" fill="#111"/>
<line x1="258.0" y1="336.8" x2="372.0" y2="336.8" stroke="#777" stroke-width="2.4" />
<line x1="258.0" y1="335.6" x2="372.0" y2="335.6" stroke="#333" stroke-width="0.73" />
<line x1="258.0" y1="337.9" x2="372.0" y2="337.9" stroke="#333" stroke-width="0.73" />
<line x1="243.4" y1="333.6" x2="372.0" y2="333.6" stroke="#999" stroke-width="0.61" />
<line x1="243.4" y1="339.9" x2="372.0" y2="339.9" stroke="#999" stroke-width="0.61" />
<line x1="243.4" y1="336.8" x2="257.4" y2="336.8" stroke="#444" stroke-width="0.61" />
<path d="M247.5 336.8 L249.6 334.4 L251.7 336.8 L249.6 339.1 Z" fill="#222"/>
<path d="M341.1 336.8 L343 334.4 L344.9 336.8 L343 339.1 Z" fill="#222"/>
<line x1="243.4" y1="342.1" x2="372.0" y2="342.1" stroke="#999" stroke-width="0.61" />
<circle cx="254.7" cy="342.1" r="0.7" fill="#111"/>
<line x1="258.0" y1="347.3" x2="372.0" y2="347.3" stroke="#777" stroke-width="2.4" />
<line x1="258.0" y1="346.1" x2="372.0" y2="346.1" stroke="#333" stroke-width="0.73" />
<line x1="258.0" y1="348.5" x2="372.0" y2="348.5" stroke="#333" stroke-width="0.73" />
<line x1="243.4" y1="344.1" x2="372.0" y2="344.1" stroke="#999" stroke-width="0.61" />
<line x1="243.4" y1="350.5" x2="372.0" y2="350.5" stroke="#999" stroke-width="0.61" />
<line x1="243.4" y1="347.3" x2="257.4" y2="347.3" stroke="#444" stroke-width="0.61" />
<path d="M247.5 347.3 L249.6 345.0 L251.7 347.3 L249.6 349.6 Z" fill="#222"/>
<path d="M341.1 347.3 L343 344.9 L344.9 347.3 L343 349.7 Z" fill="#222"/>
<line x1="338.0" y1="256.6" x2="338.0" y2="353.3" stroke="#222" stroke-width="0.98" />
<line x1="348.0" y1="256.6" x2="348.0" y2="353.3" stroke="#222" stroke-width="0.98" />
<line x1="343.0" y1="255.0" x2="343.0" y2="355.0" stroke="#222" stroke-width="0.73" />
<line x1="340.0" y1="256.6" x2="340.0" y2="353.3" stroke="#222" stroke-width="0.49" />
<line x1="346.0" y1="256.6" x2="346.0" y2="353.3" stroke="#222" stroke-width="0.49" />
<line x1="372.4" y1="256.6" x2="372.4" y2="353.3" stroke="#222" stroke-width="0.61" />
<line x1="374.4" y1="256.6" x2="374.4" y2="353.3" stroke="#222" stroke-width="0.73" />
<path d="M376.6 255.6 L389 267.6 M389 343.4 L376.6 355.4" fill="none" stroke="#333" stroke-width="2.4" />
<path d="M376.6 255.6 L389 267.6 M389 343.4 L376.6 355.4" fill="none" stroke="#bbb" stroke-width="1.22" />
<rect x="389.0" y="267.0" width="4.8" height="1.6" fill="#bbb" stroke="#333" stroke-width="0.73" rx="0"/>
<rect x="389.0" y="342.4" width="4.8" height="1.6" fill="#bbb" stroke="#333" stroke-width="0.73" rx="0"/>
<line x1="393.6" y1="268.6" x2="393.6" y2="342.4" stroke="#222" stroke-width="0.98" />
<line x1="377.5" y1="293.0" x2="388.7" y2="293.0" stroke="#444" stroke-width="1.4" />
<line x1="377.5" y1="318.0" x2="388.7" y2="318.0" stroke="#444" stroke-width="1.4" />
<line x1="369.0" y1="255.4" x2="376.0" y2="255.4" stroke="#222" stroke-width="1.8" />
<line x1="369.0" y1="354.6" x2="376.0" y2="354.6" stroke="#222" stroke-width="1.8" />
<rect x="278.1" y="236.9" width="33.1" height="8.7" fill="none" stroke="#222" stroke-width="0.98" rx="0"/>
<rect x="280.2" y="226.9" width="29.6" height="10.0" fill="none" stroke="#222" stroke-width="0.98" rx="0"/>
<line x1="281.9" y1="228.0" x2="281.9" y2="236.9" stroke="#222" stroke-width="0.61" />
<line x1="308.2" y1="228.0" x2="308.2" y2="236.9" stroke="#222" stroke-width="0.61" />
<line x1="280.2" y1="235.6" x2="309.8" y2="235.6" stroke="#999" stroke-width="1.6" />
<line x1="294.4" y1="226.0" x2="294.4" y2="237.0" stroke="#222" stroke-width="0.73" />
<line x1="295.7" y1="226.0" x2="295.7" y2="237.0" stroke="#222" stroke-width="0.73" />
<line x1="295.0" y1="225.0" x2="295.0" y2="258.0" stroke="#222" stroke-width="0.61" />
<rect x="278.1" y="365.5" width="33.1" height="9.0" fill="none" stroke="#222" stroke-width="0.98" rx="0"/>
<rect x="280.2" y="374.5" width="29.6" height="9.3" fill="none" stroke="#222" stroke-width="0.98" rx="0"/>
<line x1="281.9" y1="374.5" x2="281.9" y2="383.0" stroke="#222" stroke-width="0.61" />
<line x1="308.2" y1="374.5" x2="308.2" y2="383.0" stroke="#222" stroke-width="0.61" />
<line x1="280.2" y1="375.8" x2="309.8" y2="375.8" stroke="#999" stroke-width="1.6" />
<line x1="294.4" y1="374.5" x2="294.4" y2="384.0" stroke="#222" stroke-width="0.73" />
<line x1="295.7" y1="374.5" x2="295.7" y2="384.0" stroke="#222" stroke-width="0.73" />
<line x1="295.0" y1="353.0" x2="295.0" y2="386.0" stroke="#222" stroke-width="0.61" />
<rect x="136.6" y="239.9" width="53.1" height="1.9" fill="#777" stroke="#222" stroke-width="0.98" rx="0"/>
<line x1="137.9" y1="241.8" x2="137.9" y2="245.6" stroke="#222" stroke-width="0.73" />
<line x1="140.3" y1="241.8" x2="140.3" y2="245.6" stroke="#222" stroke-width="0.73" />
<line x1="137.9" y1="365.6" x2="137.9" y2="369.3" stroke="#222" stroke-width="0.73" />
<line x1="140.3" y1="365.6" x2="140.3" y2="369.3" stroke="#222" stroke-width="0.73" />
<circle cx="139.1" cy="240.5" r="1.0" fill="#111"/>
<line x1="186.3" y1="241.8" x2="186.3" y2="245.6" stroke="#222" stroke-width="0.73" />
<line x1="188.7" y1="241.8" x2="188.7" y2="245.6" stroke="#222" stroke-width="0.73" />
<line x1="186.3" y1="365.6" x2="186.3" y2="369.3" stroke="#222" stroke-width="0.73" />
<line x1="188.7" y1="365.6" x2="188.7" y2="369.3" stroke="#222" stroke-width="0.73" />
<circle cx="187.5" cy="240.5" r="1.0" fill="#111"/>
<circle cx="163.1" cy="243.2" r="1.6" fill="none" stroke="#222" stroke-width="1.1"/>
<path d="M166.4 240 L168.3 237.6 L170.2 240 Z" fill="#555" stroke="#222" stroke-width="0.98" />
<rect x="136.6" y="369.3" width="53.1" height="2.7" fill="#ddd" stroke="#222" stroke-width="0.98" rx="1.3"/>
<circle cx="163.1" cy="367.3" r="1.6" fill="none" stroke="#222" stroke-width="1.1"/>
<rect x="133.4" y="375.6" width="38.2" height="6.8" fill="none" stroke="#111" stroke-width="1.1" rx="0"/>
<line x1="133.4" y1="377.3" x2="171.6" y2="377.3" stroke="#222" stroke-width="0.73" />
<line x1="133.4" y1="380.7" x2="171.6" y2="380.7" stroke="#222" stroke-width="0.73" />
<rect x="135.2" y="375.6" width="3.6" height="6.8" fill="#444" stroke="#222" stroke-width="0.73" rx="0"/>
<rect x="166.2" y="375.6" width="3.6" height="6.8" fill="#444" stroke="#222" stroke-width="0.73" rx="0"/>
<rect x="140.5" y="376.2" width="4.0" height="5.6" fill="#999" stroke="#222" stroke-width="0.61" rx="0"/>
<rect x="160.5" y="376.2" width="4.0" height="5.6" fill="#999" stroke="#222" stroke-width="0.61" rx="0"/>
<rect x="146.0" y="372.0" width="13.0" height="12.4" fill="#fff" stroke="#111" stroke-width="1.1" rx="0"/>
<line x1="148.5" y1="372.0" x2="148.5" y2="384.4" stroke="#222" stroke-width="0.73" />
<line x1="156.5" y1="372.0" x2="156.5" y2="384.4" stroke="#222" stroke-width="0.73" />
<line x1="152.4" y1="366.0" x2="152.4" y2="386.0" stroke="#222" stroke-width="0.73" />
<rect x="149.5" y="378.0" width="6.0" height="6.4" fill="#666" stroke="#222" stroke-width="0.73" rx="0"/>
<line x1="302.2" y1="217.5" x2="280.2" y2="284.0" stroke="#222" stroke-width="0.73" />
<text transform="translate(305.4,216.0) scale(0.78,1)" font-size="12" text-anchor="middle">6</text>
<line x1="302.2" y1="217.5" x2="308.8" y2="217.5" stroke="#222" stroke-width="0.85" />
<text class="lg" x="447.0" y="295.2" font-size="13.4" letter-spacing="0.5">1、机身</text>
<text class="lg" x="509.8" y="295.2" font-size="13.4" letter-spacing="0.5">2、弹簧</text>
<text class="lg" x="573.0" y="295.2" font-size="13.4" letter-spacing="0.5">3、弹簧底座</text>
<text class="lg" x="447.0" y="319.9" font-size="13.4" letter-spacing="0.5">4、激震器</text>
<text class="lg" x="524.0" y="319.9" font-size="13.4" letter-spacing="0.5">5、振动电机</text>
<text class="lg" x="615.5" y="319.9" font-size="13.4" letter-spacing="0.5">6、筛条</text>
</svg>
</body></html>
